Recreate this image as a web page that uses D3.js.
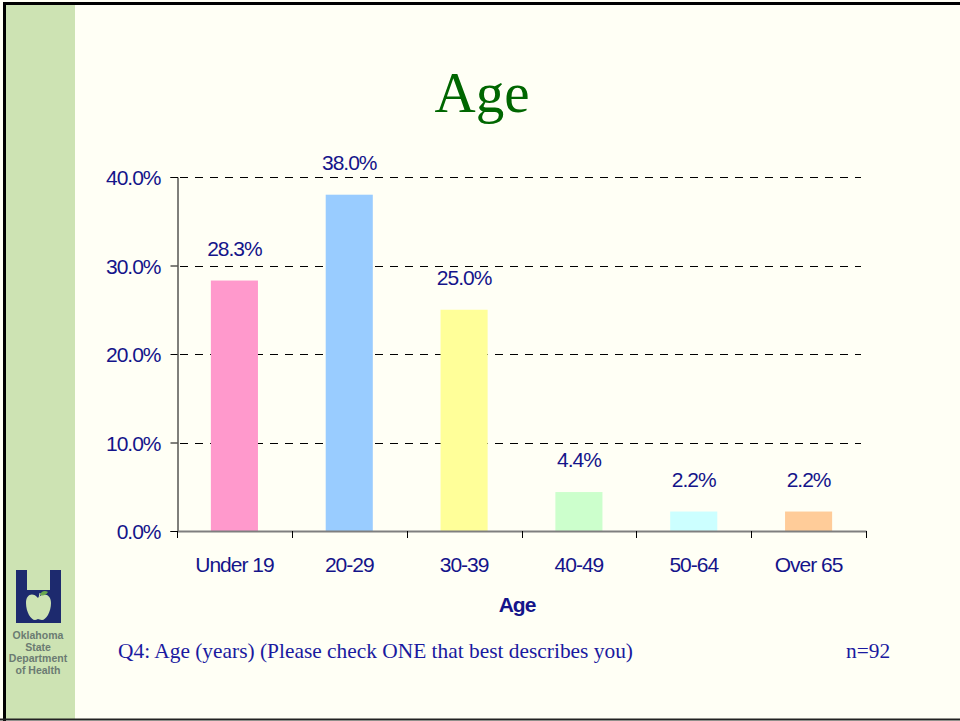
<!DOCTYPE html>
<html><head><meta charset="utf-8">
<script src="https://cdn.jsdelivr.net/npm/d3@7"></script>
<style>body{margin:0;background:#fffff5;}svg{display:block;}</style>
</head><body>
<script>
const categories = ["Under 19","20-29","30-39","40-49","50-64","Over 65"];
const values = [28.3, 38.0, 25.0, 4.4, 2.2, 2.2];
const barColors = ["#ff99cc","#99ccff","#ffff99","#ccffcc","#ccffff","#ffcc99"];
const yTicks = [0,10,20,30,40];
const title = "Age";
const xAxisTitle = "Age";
const footnote = "Q4: Age (years) (Please check ONE that best describes you)";
const nLabel = "n=92";
const logoLines = ["Oklahoma","State","Department","of Health"];

const W = 960, H = 721;
const svg = d3.select("body").append("svg").attr("width",W).attr("height",H);
svg.append("rect").attr("width",W).attr("height",H).attr("fill","#fffff5");
svg.append("rect").attr("x",5).attr("y",4).attr("width",70).attr("height",H-6).attr("fill","#cde3b3");
// frame
svg.append("path").attr("d",`M4.5,${H} V3.5 H${W}`).attr("fill","none").attr("stroke","#000").attr("stroke-width",3);
svg.append("line").attr("x1",0).attr("x2",W).attr("y1",H-1.5).attr("y2",H-1.5).attr("stroke","#222").attr("stroke-width",2);

svg.append("text").attr("x",482).attr("y",112).attr("text-anchor","middle")
  .attr("font-family","'Liberation Serif','Times New Roman',serif").attr("font-size",57)
  .attr("fill","#006600").text(title);

const x0 = 177, x1 = 866, y0 = 531, y1 = 177;
const x = d3.scaleBand().domain(categories).range([x0,x1]).paddingInner(0.59).paddingOuter(0.295);
const xt = d3.scaleBand().domain(categories).range([x0,x1]);
const y = d3.scaleLinear().domain([0,40]).range([y0,y1]);

const font = "'Liberation Sans',Arial,sans-serif";
const navy = "#14148a";
const fs = 21, ls = "-1";

// gridlines
svg.append("g").selectAll("line").data(yTicks.filter(d=>d>0)).join("line")
  .attr("x1",x0).attr("x2",861).attr("y1",d=>Math.round(y(d))+0.5).attr("y2",d=>Math.round(y(d))+0.5)
  .attr("stroke","#000").attr("stroke-width",1).attr("stroke-dasharray","8,7").attr("stroke-dashoffset",-3);

// bars
svg.append("g").selectAll("rect").data(values).join("rect")
  .attr("x",(d,i)=>x(categories[i])).attr("width",x.bandwidth())
  .attr("y",d=>y(d)).attr("height",d=>y0-y(d)).attr("fill",(d,i)=>barColors[i]);

// value labels
svg.append("g").selectAll("text").data(values).join("text")
  .attr("x",(d,i)=>x(categories[i])+x.bandwidth()/2).attr("y",d=>y(d)-25)
  .attr("text-anchor","middle").attr("font-family",font).attr("font-size",fs).attr("fill",navy)
  .attr("letter-spacing",ls)
  .text(d=>d.toFixed(1)+"%");

// y axis
const yAxis = d3.axisLeft(y).tickValues(yTicks).tickFormat(d=>d.toFixed(1)+"%").tickSize(7).tickPadding(10);
const gy = svg.append("g").attr("transform",`translate(${x0+0.5},0)`).call(yAxis);
gy.select(".domain").attr("stroke","#000");
gy.selectAll(".tick line").attr("stroke","#000");
gy.selectAll(".tick text").attr("font-family",font).attr("font-size",fs).attr("fill",navy).attr("letter-spacing",ls).attr("dy","0.36em");

// x axis
const xAxis = d3.axisBottom(xt).tickSize(0).tickPadding(26);
const gx = svg.append("g").attr("transform",`translate(0,${y0})`).call(xAxis);
gx.select(".domain").attr("stroke","#7f7f7f").attr("stroke-width",2);
gx.selectAll(".tick text").attr("font-family",font).attr("font-size",fs).attr("fill",navy).attr("letter-spacing",ls);
// boundary ticks
const bounds = categories.map(c=>xt(c)).concat([x1]);
svg.append("g").selectAll("line").data(bounds).join("line")
  .attr("x1",d=>Math.round(d)+0.5).attr("x2",d=>Math.round(d)+0.5).attr("y1",y0).attr("y2",y0+7)
  .attr("stroke","#000").attr("stroke-width",1);

svg.append("text").attr("x",517).attr("y",612).attr("text-anchor","middle")
  .attr("font-family",font).attr("font-weight","bold").attr("font-size",fs).attr("fill",navy)
  .attr("letter-spacing",ls).text(xAxisTitle);

// footnote
svg.append("text").attr("x",118).attr("y",658).attr("font-family","'Liberation Serif','Times New Roman',serif")
  .attr("font-size",21.4).attr("fill","#1a1aa0").text(footnote);
svg.append("text").attr("x",846).attr("y",658).attr("font-family","'Liberation Serif','Times New Roman',serif")
  .attr("font-size",21.4).attr("fill","#1a1aa0").text(nLabel);

// logo
const logo = svg.append("g");
const lc = "#1d2a6e";
logo.append("path").attr("fill",lc)
  .attr("d","M16,570 H27 V590 H50 V570 H61 V623 H16 Z");
logo.append("path").attr("fill","#cde3b3")
  .attr("d","M38,598 C33,592 26,594 26,603 C26,612 31,620 35,620 C37,620 37,619 38,619 C39,619 40,620 42,620 C46,620 51,612 51,603 C51,594 43,592 38,598 Z");
logo.append("path").attr("fill","#6aa84f").attr("d","M40,595 C41,591 45,590 48,592 C46,595 43,596 40,595 Z");
logo.append("line").attr("x1",39).attr("y1",598).attr("x2",40).attr("y2",593).attr("stroke","#cde3b3").attr("stroke-width",1);
logo.selectAll("text").data(logoLines).join("text")
  .attr("x",38).attr("y",(d,i)=>639+i*11.7).attr("text-anchor","middle")
  .attr("font-family",font).attr("font-size",10.5).attr("font-weight","bold").attr("fill","#6b7b72").text(d=>d);
</script>
</body></html>
